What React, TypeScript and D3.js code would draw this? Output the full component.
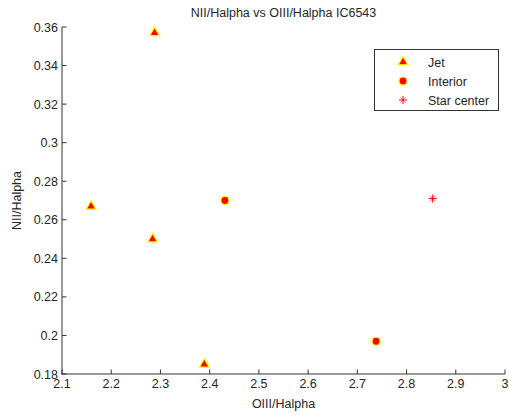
import React from "react";
import * as d3 from "d3";

// Line ratio measurements for IC6543
const jetX = [2.288, 2.159, 2.284, 2.389];
const jetY = [0.357, 0.267, 0.25, 0.185];
const interiorX = [2.431, 2.738];
const interiorY = [0.27, 0.197];
const starX = [2.853];
const starY = [0.271];

const xTicks = [2.1, 2.2, 2.3, 2.4, 2.5, 2.6, 2.7, 2.8, 2.9, 3];
const yTicks = [0.18, 0.2, 0.22, 0.24, 0.26, 0.28, 0.3, 0.32, 0.34, 0.36];
const legendLabels = ["Jet", "Interior", "Star center"];

const W = 509;
const H = 415;
const left = 62;
const right = 505;
const top = 27;
const bottom = 374;
const FONT = "'Liberation Sans', Arial, sans-serif";
const TEXT = "#262626";

const x = d3.scaleLinear().domain([2.1, 3]).range([left, right]);
const y = d3.scaleLinear().domain([0.18, 0.36]).range([bottom, top]);

const tri = d3.symbol().type(d3.symbolTriangle).size(42)() as string;

function Jet({ cx, cy }: { cx: number; cy: number }) {
  return (
    <path
      d={tri}
      transform={`translate(${cx},${cy})`}
      fill="#ff0000"
      stroke="#ffff00"
      strokeWidth={1.3}
    />
  );
}

function Interior({ cx, cy }: { cx: number; cy: number }) {
  return <circle cx={cx} cy={cy} r={4} fill="#ff0000" stroke="#ffff00" strokeWidth={1.2} />;
}

function Star({ cx, cy }: { cx: number; cy: number }) {
  const r = 4;
  const d = 2.8;
  return (
    <g stroke="#ff0000" strokeWidth={1} transform={`translate(${cx},${cy})`}>
      <line x1={-r} y1={0} x2={r} y2={0} />
      <line x1={0} y1={-r} x2={0} y2={r} />
      <line x1={-d} y1={-d} x2={d} y2={d} strokeOpacity={0.5} />
      <line x1={-d} y1={d} x2={d} y2={-d} strokeOpacity={0.5} />
    </g>
  );
}

export default function App() {
  const fmt = (v: number) => String(+v.toFixed(2));
  return (
    <svg
      width={W}
      height={H}
      style={{ position: "fixed", left: 0, top: 0, background: "#fff" }}
      fontFamily={FONT}
    >
      <rect width={W} height={H} fill="#fff" />
      <text x={(left + right) / 2} y={17} textAnchor="middle" fontSize={12.5} fill={TEXT}>
        NII/Halpha vs OIII/Halpha IC6543
      </text>

      {/* axes */}
      <g stroke="#333" strokeWidth={1} fill="none">
        <line x1={left} y1={top} x2={left} y2={bottom + 0.5} />
        <line x1={left - 0.5} y1={bottom} x2={right} y2={bottom} />
        {xTicks.map((t) => (
          <line key={"xt" + t} x1={x(t)} x2={x(t)} y1={bottom} y2={bottom - 4.5} />
        ))}
        {yTicks.map((t) => (
          <line key={"yt" + t} x1={left} x2={left + 4.5} y1={y(t)} y2={y(t)} />
        ))}
      </g>
      {xTicks.map((t) => (
        <text key={"xl" + t} x={x(t)} y={bottom + 14} textAnchor="middle" fontSize={12.5} fill={TEXT}>
          {fmt(t)}
        </text>
      ))}
      {yTicks.map((t) => (
        <text key={"yl" + t} x={left - 4} y={y(t) + 4.5} textAnchor="end" fontSize={12.5} fill={TEXT}>
          {fmt(t)}
        </text>
      ))}
      <text x={(left + right) / 2} y={408} textAnchor="middle" fontSize={12.5} fill={TEXT}>
        OIII/Halpha
      </text>
      <text
        transform={`translate(21,${(top + bottom) / 2}) rotate(-90)`}
        textAnchor="middle"
        fontSize={12.5}
        fill={TEXT}
      >
        NII/Halpha
      </text>

      {/* data */}
      {jetX.map((v, i) => (
        <Jet key={"j" + i} cx={x(v)} cy={y(jetY[i])} />
      ))}
      {interiorX.map((v, i) => (
        <Interior key={"i" + i} cx={x(v)} cy={y(interiorY[i])} />
      ))}
      {starX.map((v, i) => (
        <Star key={"s" + i} cx={x(v)} cy={y(starY[i])} />
      ))}

      {/* legend */}
      <rect x={374.5} y={49.5} width={124} height={61} fill="#fff" stroke="#333" strokeWidth={1} />
      <Jet cx={403} cy={62} />
      <Interior cx={403} cy={81} />
      <Star cx={403} cy={100} />
      {legendLabels.map((l, i) => (
        <text key={l} x={428} y={66.5 + i * 19} fontSize={12.5} fill={TEXT}>
          {l}
        </text>
      ))}
    </svg>
  );
}
